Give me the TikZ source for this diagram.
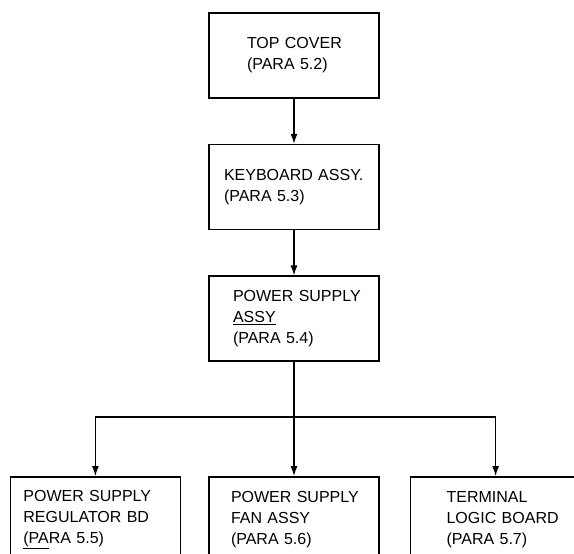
\documentclass[tikz,border=0pt]{standalone}
\usepackage{fontspec}
\setmainfont{Liberation Sans}
\usetikzlibrary{arrows.meta,positioning}
\hyphenpenalty=10000

\begin{document}
\begin{tikzpicture}[
  x=1pt, y=1pt,
  box/.style={draw, line width=1.6pt, minimum width=170pt, minimum height=85pt, align=left, font=\fontsize{16}{21}\selectfont},
  arrow/.style={-{Latex[length=10pt,width=7pt]}, line width=1.2pt},
]
\useasboundingbox (0,0) rectangle (574,-554);

\node[box, inner xsep=38pt, text width=94pt] (top) at (294,-55.5) {TOP~COVER\\(PARA~5.2)};
\node[box, inner xsep=15pt, text width=140pt, below=45pt of top] (kbd) {KEYBOARD~ASSY.\\(PARA~5.3)};
\node[box, inner xsep=24pt, text width=122pt, below=45pt of kbd] (psa) {POWER~SUPPLY\\\underline{ASSY}\\(PARA~5.4)};
\node[box, inner xsep=22pt, text width=126pt, below=114pt of psa] (fan) {POWER~SUPPLY\\FAN~ASSY\\(PARA~5.6)};
\node[box, inner xsep=13pt, text width=144pt, left=27pt of fan] (reg) {POWER~SUPPLY\\REGULATOR~BD\\\underline{(PA}RA~5.5)};
\node[box, inner xsep=36pt, text width=98pt, right=30pt of fan] (tlb) {TERMINAL\\LOGIC~BOARD\\(PARA~5.7)};

\coordinate[below=55pt of psa] (split);

\draw[arrow] (top) -- (kbd);
\draw[arrow] (kbd) -- (psa);
\draw[arrow] (psa) -- (fan);
\draw[arrow] (split) -| (reg);
\draw[arrow] (split) -| (tlb);

\end{tikzpicture}
\end{document}
